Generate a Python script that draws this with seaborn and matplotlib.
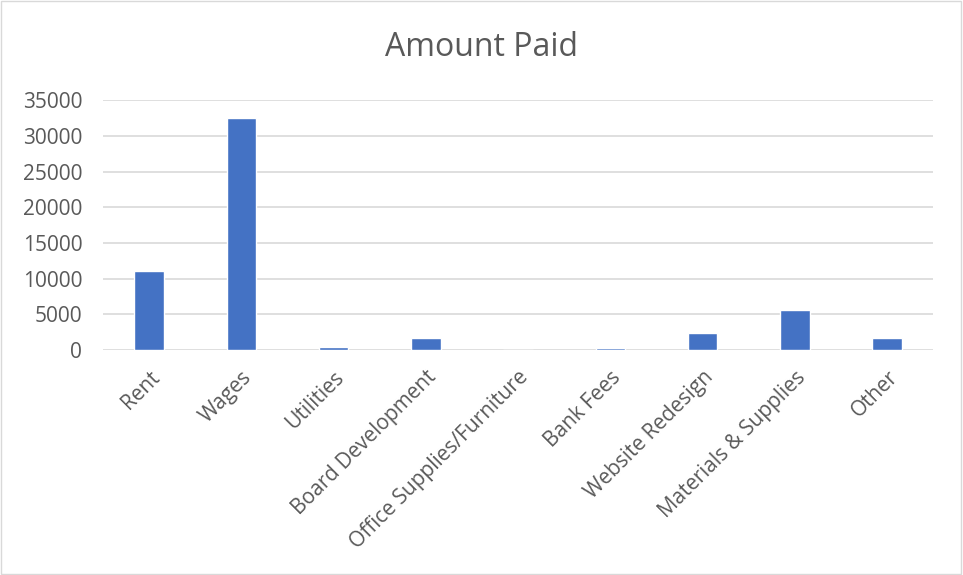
import pandas as pd
import matplotlib
matplotlib.use("Agg")
import matplotlib.pyplot as plt
import seaborn as sns

categories = ["Rent", "Wages", "Utilities", "Board Development",
              "Office Supplies/Furniture", "Bank Fees", "Website Redesign",
              "Materials & Supplies", "Other"]
amounts = [11100, 32450, 420, 1650, 60, 250, 2400, 5600, 1650]
y_ticks = [0, 5000, 10000, 15000, 20000, 25000, 30000, 35000]

df = pd.DataFrame({"Category": categories, "Amount": amounts})

sns.set_style("white")
plt.rcParams["font.family"] = ["Open Sans", "DejaVu Sans"]

fig = plt.figure(figsize=(9.63, 5.75), dpi=100)
ax = fig.add_axes([0.107, 0.391, 0.862, 0.435])

sns.barplot(data=df, x="Category", y="Amount", color="#4472C4",
            width=0.32, saturation=1, ax=ax, zorder=3)

ax.set_ylim(0, 35000)
ax.set_yticks(y_ticks)
ax.set_yticklabels([str(v) for v in y_ticks], fontsize=15, color="#595959")
ax.set_xlim(-0.5, len(categories) - 0.5)
ax.grid(axis="y", color="#D9D9D9", linewidth=1.2, zorder=0)
for s in ax.spines.values():
    s.set_visible(False)
ax.tick_params(axis="y", length=0, pad=15)
ax.tick_params(axis="x", length=0, pad=12)
ax.set_xticks(range(len(categories)))
ax.set_xticklabels(categories, rotation=45, ha="right", rotation_mode="anchor",
                   fontsize=15, color="#595959")
ax.set_xlabel("")
ax.set_ylabel("")
fig.text(0.5, 0.918, "Amount Paid", fontsize=23, color="#595959",
         ha="center", va="center")

# light border around the chart
fig.patches.append(plt.Rectangle((0.001, 0.001), 0.997, 0.997,
                                 transform=fig.transFigure, fill=False,
                                 edgecolor="#D9D9D9", linewidth=1))

fig.savefig("out.png", dpi=100)
